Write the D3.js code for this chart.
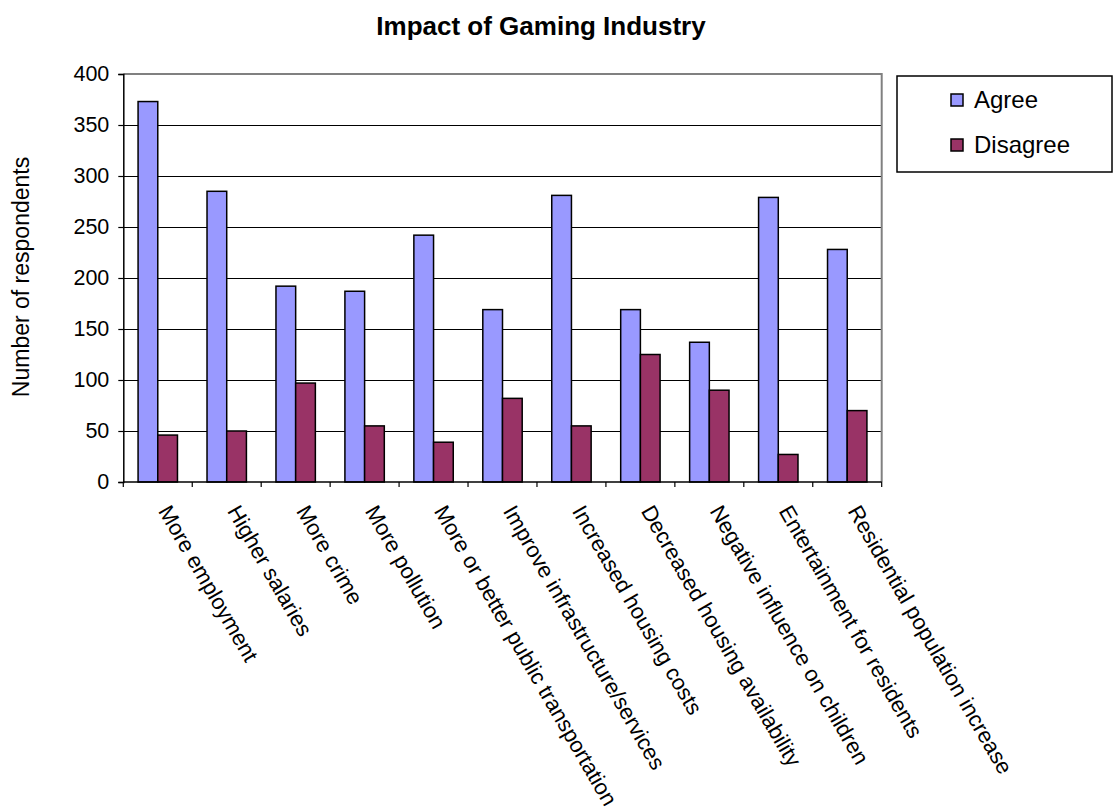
<!DOCTYPE html>
<html>
<head>
<meta charset="utf-8">
<script src="https://cdn.jsdelivr.net/npm/d3@7"></script>
<style>
  html, body { margin: 0; padding: 0; background: #fff; }
  svg { display: block; font-family: "Liberation Sans", Arial, sans-serif; }
</style>
</head>
<body>
<svg id="chart" width="1114" height="811"></svg>
<script>
const categories = [
  "More employment",
  "Higher salaries",
  "More crime",
  "More pollution",
  "More or better public transportation",
  "Improve infrastructure/services",
  "Increased housing costs",
  "Decreased housing availability",
  "Negative influence on children",
  "Entertainment for residents",
  "Residential population increase"
];
const seriesNames = ["Agree", "Disagree"];
const agreeValues = [373, 285, 192, 187, 242, 169, 281, 169, 137, 279, 228];
const disagreeValues = [46, 50, 97, 55, 39, 82, 55, 125, 90, 27, 70];
const yTicks = [0, 50, 100, 150, 200, 250, 300, 350, 400];
const seriesColors = ["#9999FF", "#993366"];

const svg = d3.select("#chart");
const plot = { left: 123.3, right: 881.7, top: 74, bottom: 482 };

const x0 = d3.scaleBand().domain(categories).range([plot.left, plot.right]).paddingInner(0).paddingOuter(0);
const x1 = d3.scaleBand().domain(seriesNames).range([0, x0.bandwidth()]).paddingInner(0).paddingOuter(0.75);
const y = d3.scaleLinear().domain([0, 400]).range([plot.bottom, plot.top]);
const color = d3.scaleOrdinal().domain(seriesNames).range(seriesColors);

// Title
svg.append("text")
  .attr("x", 541).attr("y", 35)
  .attr("text-anchor", "middle")
  .attr("font-size", 26).attr("font-weight", "bold")
  .text("Impact of Gaming Industry");

// Gridlines
svg.append("g")
  .selectAll("line")
  .data(yTicks.filter(t => t > 0 && t < 400))
  .join("line")
  .attr("x1", plot.left).attr("x2", plot.right)
  .attr("y1", d => Math.round(y(d)) + 0.5).attr("y2", d => Math.round(y(d)) + 0.5)
  .attr("stroke", "#000").attr("stroke-width", 1);

// Plot border top & right (gray)
svg.append("path")
  .attr("d", `M${plot.left},${plot.top}H${plot.right}V${plot.bottom}`)
  .attr("fill", "none").attr("stroke", "#808080").attr("stroke-width", 2);

// Bars
const data = categories.map((c, i) => ({ cat: c, vals: [
  { key: "Agree", value: agreeValues[i] },
  { key: "Disagree", value: disagreeValues[i] }
]}));

const groups = svg.append("g").selectAll("g")
  .data(data).join("g")
  .attr("transform", d => `translate(${x0(d.cat)},0)`);

groups.selectAll("rect")
  .data(d => d.vals).join("rect")
  .attr("x", d => x1(d.key))
  .attr("y", d => y(d.value))
  .attr("width", x1.bandwidth())
  .attr("height", d => y(0) - y(d.value))
  .attr("fill", d => color(d.key))
  .attr("stroke", "#000").attr("stroke-width", 1.5);

// Y axis
const yAxis = d3.axisLeft(y).tickValues(yTicks).tickSize(5).tickPadding(9).tickFormat(d3.format("d"));
const gy = svg.append("g").attr("transform", `translate(${plot.left},0)`).call(yAxis);
gy.select(".domain").attr("stroke", "#000").attr("stroke-width", 1.5);
gy.selectAll(".tick line").attr("stroke", "#000").attr("stroke-width", 1.2);
gy.selectAll(".tick text").attr("font-size", 21.5).attr("fill", "#000")
  .attr("font-family", "'Liberation Sans', Arial, sans-serif");

// X axis (ticks at category boundaries)
const gx = svg.append("g").attr("transform", `translate(0,${plot.bottom})`);
gx.append("line").attr("x1", plot.left).attr("x2", plot.right).attr("y1", 0).attr("y2", 0)
  .attr("stroke", "#000").attr("stroke-width", 1.5);
const boundaries = categories.map(c => x0(c)).concat([plot.right]);
gx.selectAll("line.tk").data(boundaries).join("line").attr("class", "tk")
  .attr("x1", d => d).attr("x2", d => d).attr("y1", 0).attr("y2", 5)
  .attr("stroke", "#000").attr("stroke-width", 1.2);

// X labels rotated
svg.append("g").selectAll("text")
  .data(categories).join("text")
  .attr("transform", d => `translate(${x0(d) + x0.bandwidth() / 2},${plot.bottom + 29}) rotate(60)`)
  .attr("text-anchor", "start")
  .attr("font-size", 22)
  .text(d => d);

// Y axis title
svg.append("text")
  .attr("transform", `translate(29,277) rotate(-90)`)
  .attr("text-anchor", "middle")
  .attr("font-size", 23)
  .text("Number of respondents");

// Legend
const legend = svg.append("g");
legend.append("rect")
  .attr("x", 897).attr("y", 76).attr("width", 215).attr("height", 96)
  .attr("fill", "#fff").attr("stroke", "#000").attr("stroke-width", 1.5);
const legendY = [100, 145];
seriesNames.forEach((s, i) => {
  legend.append("rect")
    .attr("x", 951).attr("y", legendY[i] - 6).attr("width", 12).attr("height", 12)
    .attr("fill", color(s)).attr("stroke", "#000").attr("stroke-width", 1.5);
  legend.append("text")
    .attr("x", 974).attr("y", legendY[i] + 8)
    .attr("font-size", 24)
    .text(s);
});
</script>
</body>
</html>
